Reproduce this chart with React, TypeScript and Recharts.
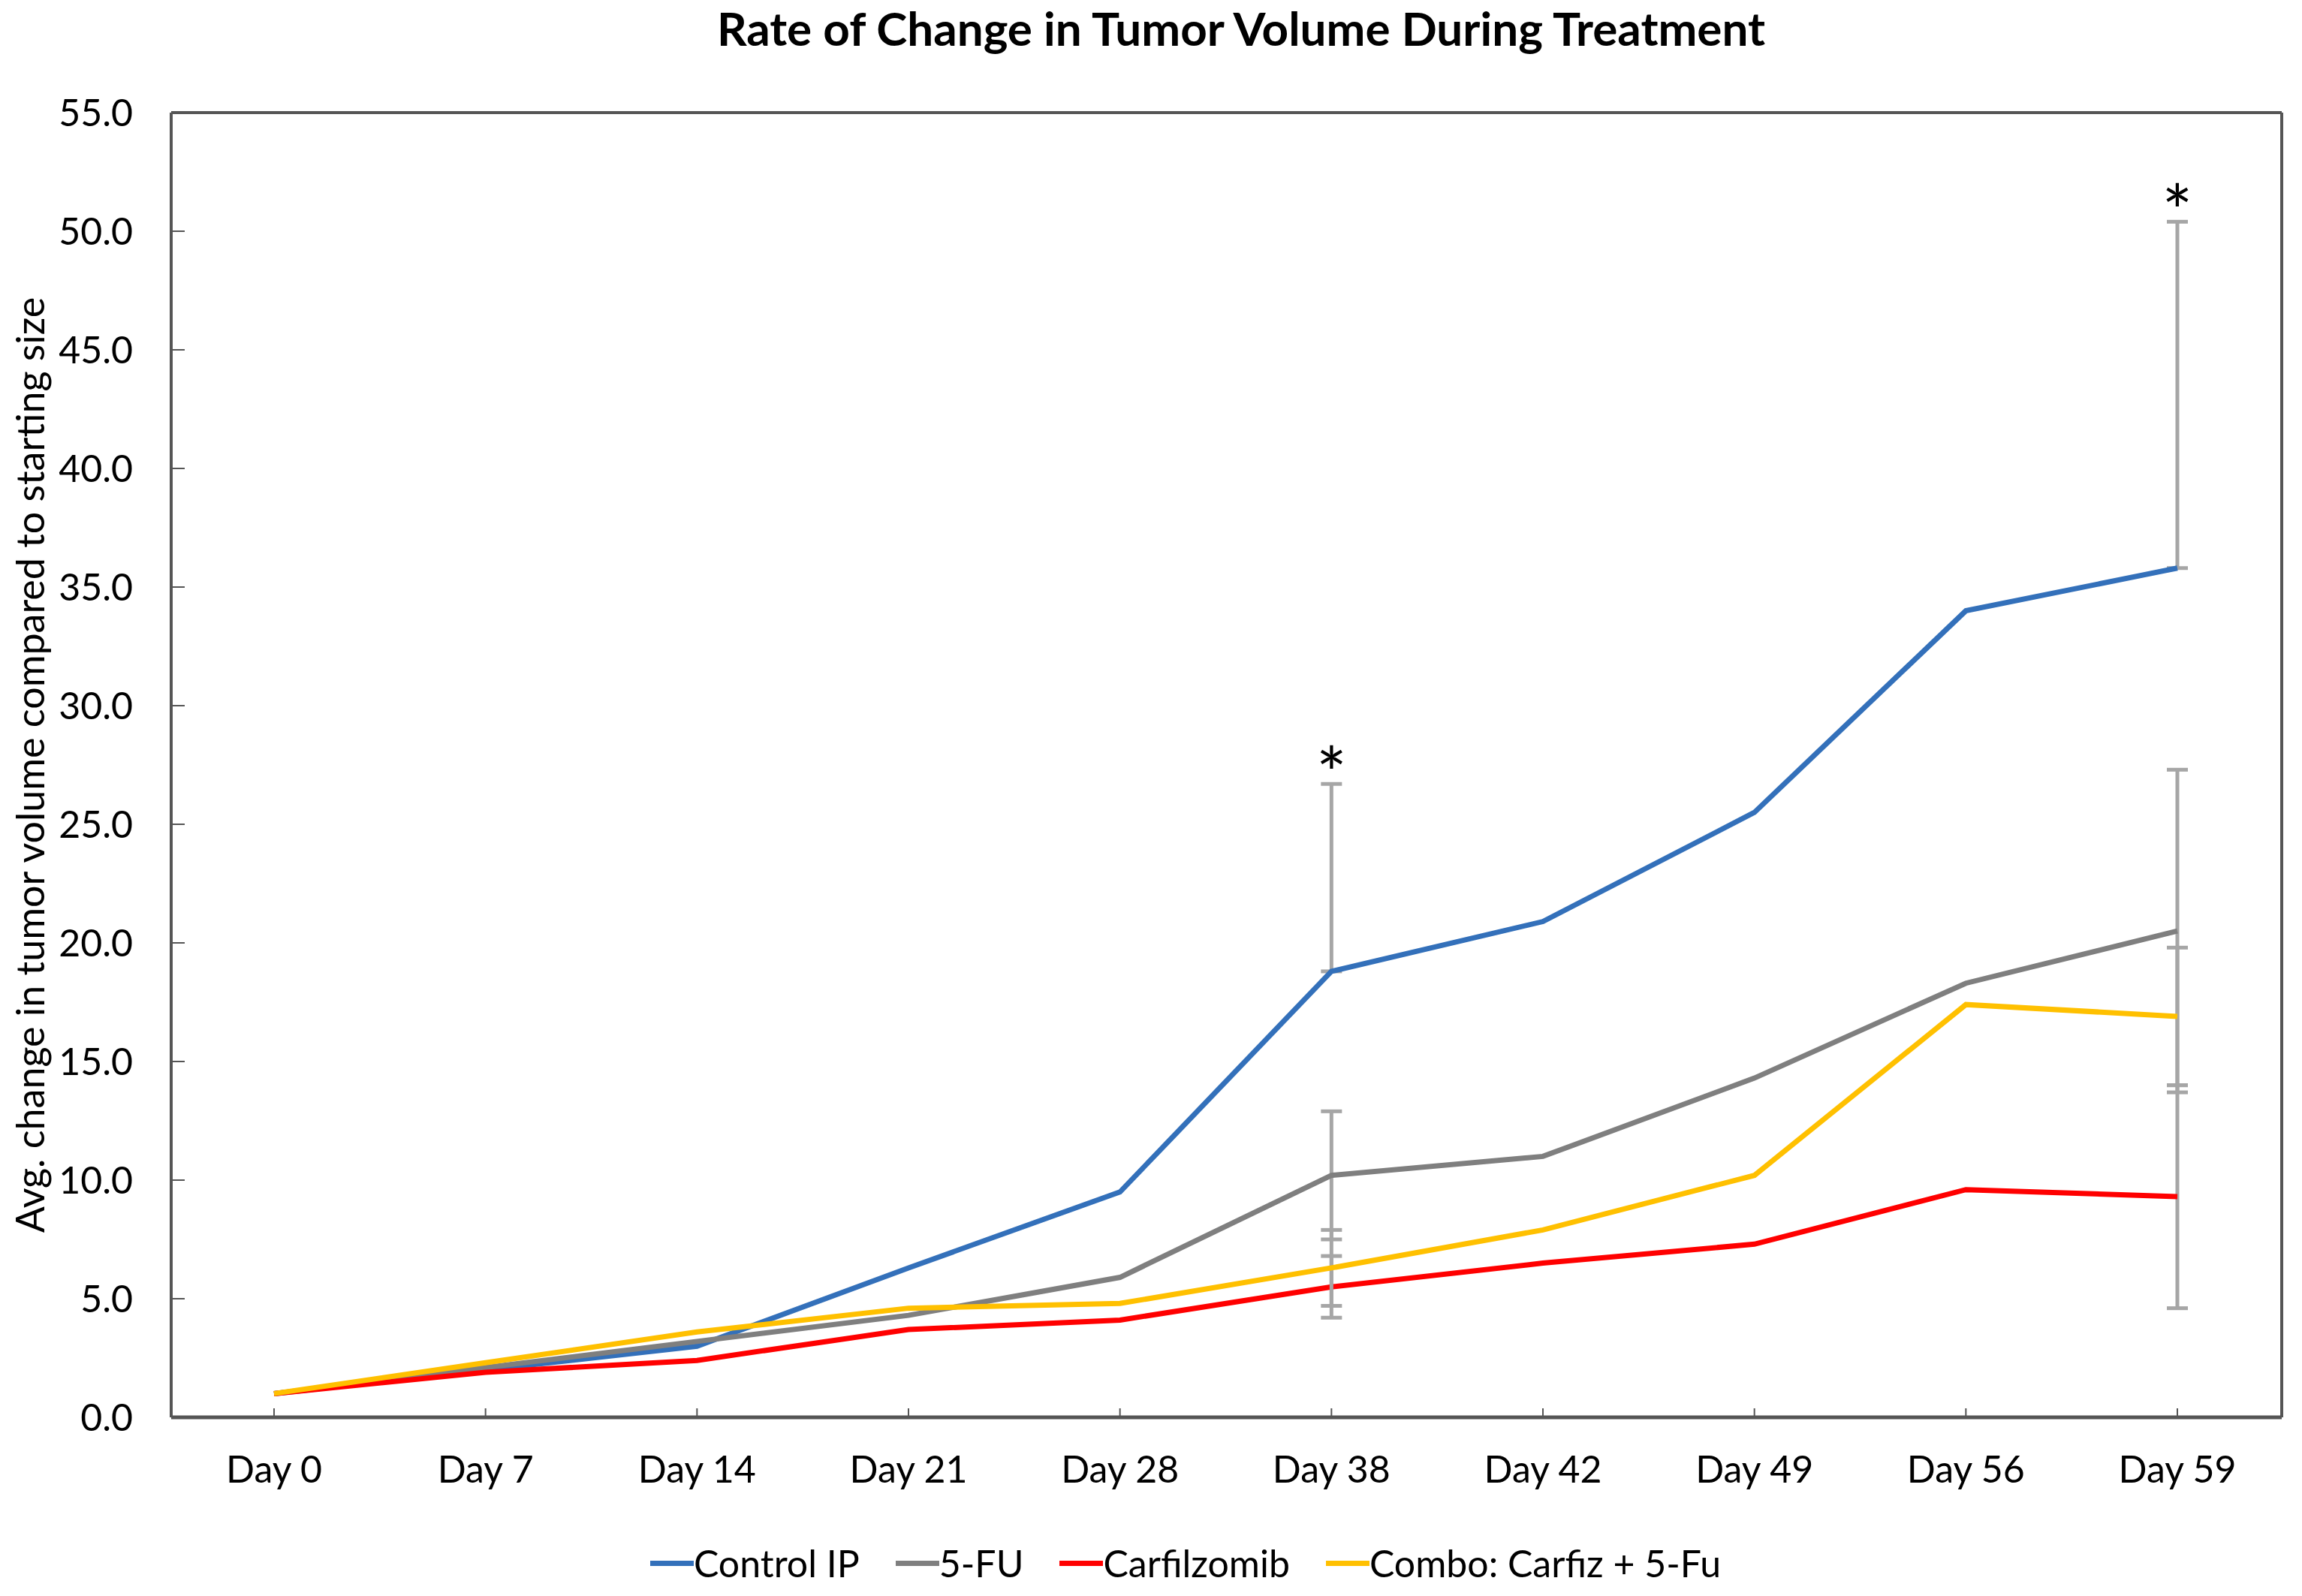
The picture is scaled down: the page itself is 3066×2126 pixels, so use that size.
import React from 'react';
import { LineChart, Line, XAxis, YAxis, ErrorBar, Legend, ReferenceDot } from 'recharts';

const days = ['Day 0', 'Day 7', 'Day 14', 'Day 21', 'Day 28', 'Day 38', 'Day 42', 'Day 49', 'Day 56', 'Day 59'];
const controlIP = [1.0, 2.0, 3.0, 6.3, 9.5, 18.8, 20.9, 25.5, 34.0, 35.8];
const fiveFU = [1.0, 2.1, 3.2, 4.3, 5.9, 10.2, 11.0, 14.3, 18.3, 20.5];
const carfilzomib = [1.0, 1.9, 2.4, 3.7, 4.1, 5.5, 6.5, 7.3, 9.6, 9.3];
const combo = [1.0, 2.3, 3.6, 4.6, 4.8, 6.3, 7.9, 10.2, 17.4, 16.9];

// error amounts as [minus, plus]; null = no error bar
const controlErr = [null, null, null, null, null, [0, 7.9], null, null, null, [0, 14.6]];
const fiveFUErr = [null, null, null, null, null, [2.7, 2.7], null, null, null, [6.8, 6.8]];
const carfilzomibErr = [null, null, null, null, null, [1.3, 1.3], null, null, null, [4.7, 4.7]];
const comboErr = [null, null, null, null, null, [1.6, 1.6], null, null, null, [2.9, 2.9]];

const significantDays = ['Day 38', 'Day 59'];
const yTicks = [0, 5, 10, 15, 20, 25, 30, 35, 40, 45, 50, 55];
const legendOrder = ['Control IP', '5-FU', 'Carfilzomib', 'Combo: Carfiz + 5-Fu'];

const data = days.map((day, i) => ({
  day,
  control: controlIP[i],
  fiveFU: fiveFU[i],
  carfilzomib: carfilzomib[i],
  combo: combo[i],
  controlErr: controlErr[i],
  fiveFUErr: fiveFUErr[i],
  carfilzomibErr: carfilzomibErr[i],
  comboErr: comboErr[i],
}));

const FONT = 'Lato, "Open Sans", sans-serif';
const AXIS = '#555555';
const ERR = '#A6A6A6';

const LegendContent = (props: any) => {
  const payload = [...(props.payload || [])].sort(
    (a: any, b: any) => legendOrder.indexOf(a.value) - legendOrder.indexOf(b.value)
  );
  return (
    <div style={{ height: 60, display: 'flex', justifyContent: 'center', alignItems: 'center', paddingLeft: 110, fontFamily: FONT, fontSize: 50, color: '#000' }}>
      {payload.map((p: any, i: number) => (
        <div key={i} style={{ display: 'flex', alignItems: 'center', marginRight: i < payload.length - 1 ? 48 : 0 }}>
          <div style={{ width: 58, height: 7, background: p.color }} />
          <span>{p.value}</span>
        </div>
      ))}
    </div>
  );
};

const YLabel = (props: any) => {
  const vb = props.viewBox || { x: 0, y: 0, width: 0, height: 0 };
  const cx = vb.x + 31;
  const cy = vb.y + vb.height / 2;
  return (
    <text x={cx} y={cy} transform={`rotate(-90 ${cx} ${cy})`} textAnchor="middle" dominantBaseline="central"
      style={{ fontFamily: FONT, fontSize: 52, fill: '#000' }}>
      Avg. change in tumor volume compared to starting size
    </text>
  );
};

const Star = (props: any) => {
  const vb = props.viewBox || { x: 0, y: 0 };
  const x = vb.x + (vb.width || 0) / 2;
  const y = vb.y + (vb.height || 0) / 2;
  return (
    <text x={x} y={y + 22} textAnchor="middle" style={{ fontFamily: FONT, fontSize: 96, fill: '#000' }}>*</text>
  );
};

export default function App() {
  return (
    <div style={{ position: 'relative', width: 3050, height: 2110 }}>
      <div style={{ position: 'absolute', top: -8, left: 645, width: 2000, textAlign: 'center', fontFamily: FONT, fontWeight: 700, fontSize: 62, color: '#000', whiteSpace: 'nowrap' }}>
        Rate of Change in Tumor Volume During Treatment
      </div>
      <LineChart width={3050} height={2110} data={data} margin={{ top: 141, right: 18, bottom: 6, left: 0 }}>
        <XAxis dataKey="day" interval={0} padding={{ left: 137, right: 139 }} height={164}
          axisLine={{ stroke: AXIS, strokeWidth: 5 }} tickLine={{ stroke: AXIS, strokeWidth: 2 }}
          tickSize={-12} tickMargin={63} tick={{ fontFamily: FONT, fontSize: 50, fill: '#000' }} />
        <XAxis xAxisId="top" dataKey="day" orientation="top" height={1} tick={false} tickLine={false}
          axisLine={{ stroke: AXIS, strokeWidth: 4 }} />
        <YAxis domain={[0, 55]} ticks={yTicks} width={220} interval={0}
          tickFormatter={(v: number) => v.toFixed(1)}
          axisLine={{ stroke: AXIS, strokeWidth: 4 }} tickLine={{ stroke: AXIS, strokeWidth: 2 }}
          tickSize={-18} tickMargin={69} tick={{ fontFamily: FONT, fontSize: 50, fill: '#000' }}
          label={{ content: YLabel }} />
        <YAxis yAxisId="right" orientation="right" width={1} domain={[0, 55]} tick={false} tickLine={false}
          axisLine={{ stroke: AXIS, strokeWidth: 4 }} />
        <Line type="linear" dataKey="control" name="Control IP" stroke="#3370BA" strokeWidth={7} dot={false} isAnimationActive={false}>
          <ErrorBar dataKey="controlErr" direction="y" width={14} stroke={ERR} strokeWidth={5} isAnimationActive={false} />
        </Line>
        <Line type="linear" dataKey="fiveFU" name="5-FU" stroke="#7F7F7F" strokeWidth={7} dot={false} isAnimationActive={false}>
          <ErrorBar dataKey="fiveFUErr" direction="y" width={14} stroke={ERR} strokeWidth={5} isAnimationActive={false} />
        </Line>
        <Line type="linear" dataKey="carfilzomib" name="Carfilzomib" stroke="#FF0000" strokeWidth={7} dot={false} isAnimationActive={false}>
          <ErrorBar dataKey="carfilzomibErr" direction="y" width={14} stroke={ERR} strokeWidth={5} isAnimationActive={false} />
        </Line>
        <Line type="linear" dataKey="combo" name="Combo: Carfiz + 5-Fu" stroke="#FFC000" strokeWidth={7} dot={false} isAnimationActive={false}>
          <ErrorBar dataKey="comboErr" direction="y" width={14} stroke={ERR} strokeWidth={5} isAnimationActive={false} />
        </Line>
        {significantDays.map((d) => {
          const i = days.indexOf(d);
          const e = controlErr[i] as number[];
          return (
            <ReferenceDot key={d} x={d} y={controlIP[i] + e[1]} r={0} fill="none" stroke="none"
              label={{ content: Star }} isFront />
          );
        })}
        <Legend verticalAlign="bottom" align="center" content={LegendContent} />
      </LineChart>
    </div>
  );
}
